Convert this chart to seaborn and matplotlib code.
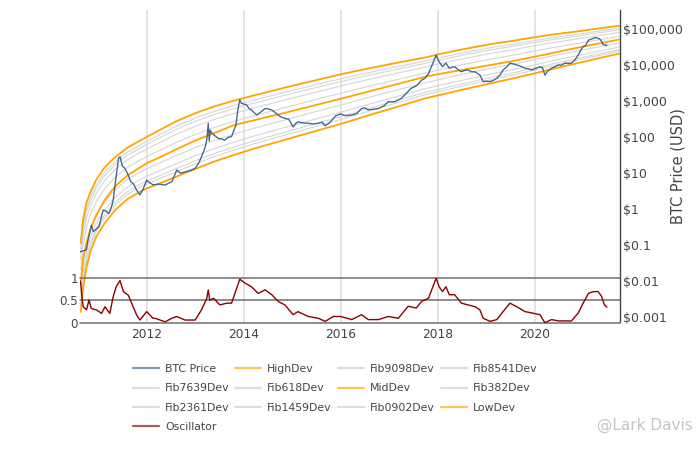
import numpy as np
import pandas as pd
import matplotlib
matplotlib.use("Agg")
import matplotlib.pyplot as plt
import seaborn as sns
from matplotlib.lines import Line2D
from matplotlib.ticker import NullLocator

# ---------------- data ----------------
# decimal years, log10(USD)
band_t = [2010.64, 2010.69, 2010.76, 2010.85, 2010.96, 2011.13, 2011.35, 2011.6, 2011.85,
          2012.0, 2012.25, 2012.6, 2013.0, 2013.4, 2013.8, 2014.2, 2014.85, 2015.5, 2016.0,
          2016.6, 2017.2, 2017.75, 2018.0, 2018.5, 2019.1, 2019.6, 2020.0, 2020.4, 2020.85,
          2021.3, 2021.76]
high_log10 = [-0.94, -0.27, 0.19, 0.51, 0.82, 1.16, 1.45, 1.71, 1.90,
              2.01, 2.19, 2.44, 2.67, 2.86, 3.02, 3.16, 3.38, 3.59, 3.75,
              3.92, 4.08, 4.22, 4.30, 4.44, 4.59, 4.69, 4.78, 4.86, 4.935,
              5.02, 5.10]
mid_log10 = [-2.05, -1.36, -0.92, -0.51, -0.17, 0.25, 0.64, 0.94, 1.15,
             1.28, 1.43, 1.66, 1.91, 2.12, 2.34, 2.47, 2.68, 2.90, 3.07,
             3.28, 3.49, 3.685, 3.75, 3.87, 4.01, 4.13, 4.24, 4.35, 4.48,
             4.60, 4.72]
low_log10 = [-2.85, -2.20, -1.60, -1.13, -0.76, -0.39, -0.02, 0.28, 0.48,
             0.58, 0.71, 0.90, 1.12, 1.33, 1.51, 1.68, 1.93, 2.18, 2.37,
             2.62, 2.86, 3.085, 3.16, 3.32, 3.50, 3.65, 3.775, 3.91, 4.05,
             4.19, 4.33]
fib_names = ["Fib9098Dev", "Fib8541Dev", "Fib7639Dev", "Fib618Dev",
             "Fib382Dev", "Fib2361Dev", "Fib1459Dev", "Fib0902Dev"]
fib_levels = [0.9098, 0.8541, 0.7639, 0.618, 0.382, 0.2361, 0.1459, 0.0902]

btc_t = [2010.62, 2010.70, 2010.755, 2010.80, 2010.86, 2010.90, 2010.96, 2011.02, 2011.10,
         2011.16, 2011.22, 2011.27, 2011.31, 2011.37, 2011.42, 2011.45, 2011.50, 2011.55,
         2011.62, 2011.67, 2011.73, 2011.79, 2011.86, 2011.92, 2012.0, 2012.06, 2012.13,
         2012.25, 2012.38, 2012.45, 2012.52, 2012.62, 2012.70, 2012.79, 2012.90, 2013.0,
         2013.08, 2013.13, 2013.2, 2013.24, 2013.27, 2013.29, 2013.31, 2013.34, 2013.40,
         2013.48, 2013.55, 2013.61, 2013.68, 2013.75, 2013.80, 2013.84, 2013.88, 2013.92,
         2013.96, 2014.01, 2014.06, 2014.11, 2014.16, 2014.22, 2014.27, 2014.35, 2014.44,
         2014.50, 2014.58, 2014.64, 2014.71, 2014.78, 2014.85, 2014.93, 2015.02, 2015.07,
         2015.12, 2015.22, 2015.33, 2015.44, 2015.54, 2015.62, 2015.68, 2015.75, 2015.82,
         2015.90, 2016.0, 2016.10, 2016.23, 2016.33, 2016.43, 2016.50, 2016.57, 2016.68,
         2016.78, 2016.90, 2016.98, 2017.05, 2017.12, 2017.25, 2017.39, 2017.45, 2017.52,
         2017.58, 2017.67, 2017.74, 2017.81, 2017.84, 2017.90, 2017.94, 2017.97, 2018.00,
         2018.03, 2018.10, 2018.17, 2018.24, 2018.30, 2018.35, 2018.42, 2018.49, 2018.56,
         2018.63, 2018.70, 2018.77, 2018.87, 2018.94, 2019.0, 2019.08, 2019.15, 2019.22,
         2019.28, 2019.35, 2019.42, 2019.49, 2019.56, 2019.63, 2019.70, 2019.80, 2019.87,
         2019.94, 2020.03, 2020.11, 2020.16, 2020.21, 2020.27, 2020.35, 2020.42, 2020.49,
         2020.55, 2020.62, 2020.70, 2020.76, 2020.83, 2020.90, 2020.95, 2021.0, 2021.05,
         2021.11, 2021.16, 2021.21, 2021.26, 2021.31, 2021.35, 2021.38, 2021.41, 2021.44,
         2021.47, 2021.49]
btc_log10 = [-1.18, -1.15, -1.13, -0.80, -0.44, -0.62, -0.55, -0.47, -0.02,
             -0.05, -0.12, 0.05, 0.26, 0.91, 1.42, 1.46, 1.20, 1.14,
             0.95, 0.77, 0.70, 0.54, 0.40, 0.54, 0.81, 0.74, 0.68,
             0.70, 0.675, 0.72, 0.77, 1.09, 1.00, 1.04, 1.08, 1.14,
             1.30, 1.46, 1.70, 1.93, 2.39, 1.90, 2.20, 2.12, 2.05,
             1.97, 1.95, 1.92, 2.00, 2.02, 2.20, 2.34, 2.76, 3.04,
             2.94, 2.92, 2.90, 2.80, 2.76, 2.68, 2.62, 2.70, 2.80,
             2.79, 2.76, 2.70, 2.62, 2.56, 2.53, 2.50, 2.29, 2.38,
             2.43, 2.40, 2.39, 2.37, 2.39, 2.42, 2.32, 2.38, 2.48,
             2.60, 2.65, 2.60, 2.62, 2.66, 2.80, 2.82, 2.76, 2.78,
             2.80, 2.88, 2.99, 2.98, 2.99, 3.08, 3.27, 3.36, 3.40,
             3.45, 3.59, 3.64, 3.76, 3.87, 4.05, 4.19, 4.29, 4.18,
             4.10, 3.96, 4.06, 3.92, 3.95, 3.96, 3.88, 3.82, 3.86,
             3.87, 3.82, 3.82, 3.73, 3.545, 3.56, 3.545, 3.58, 3.64,
             3.72, 3.87, 3.95, 4.06, 4.04, 4.01, 3.98, 3.92, 3.90,
             3.87, 3.92, 3.96, 3.94, 3.73, 3.84, 3.92, 3.96, 4.01,
             4.00, 4.06, 4.05, 4.06, 4.15, 4.29, 4.42, 4.52, 4.55,
             4.70, 4.72, 4.75, 4.77, 4.75, 4.72, 4.66, 4.58, 4.56,
             4.57, 4.54]

osc_t = [2010.62, 2010.64, 2010.665, 2010.69, 2010.76, 2010.81, 2010.86, 2010.96, 2011.07,
         2011.14, 2011.24, 2011.31, 2011.37, 2011.45, 2011.52, 2011.62, 2011.69, 2011.79,
         2011.86, 2012.0, 2012.13, 2012.17, 2012.38, 2012.52, 2012.62, 2012.79, 2013.0,
         2013.13, 2013.24, 2013.27, 2013.30, 2013.38, 2013.51, 2013.65, 2013.75, 2013.82,
         2013.92, 2014.03, 2014.16, 2014.30, 2014.44, 2014.58, 2014.71, 2014.85, 2015.02,
         2015.12, 2015.33, 2015.54, 2015.68, 2015.85, 2016.0, 2016.23, 2016.43, 2016.57,
         2016.78, 2016.98, 2017.19, 2017.39, 2017.56, 2017.67, 2017.81, 2017.94, 2017.97,
         2018.03, 2018.10, 2018.17, 2018.24, 2018.35, 2018.49, 2018.63, 2018.77, 2018.87,
         2018.94, 2019.08, 2019.22, 2019.35, 2019.49, 2019.63, 2019.80, 2019.94, 2020.11,
         2020.21, 2020.35, 2020.49, 2020.62, 2020.76, 2020.90, 2021.0, 2021.11, 2021.21,
         2021.31, 2021.38, 2021.44, 2021.49]
osc_val = [0.95, 0.89, 0.59, 0.36, 0.29, 0.51, 0.32, 0.29, 0.21,
           0.36, 0.21, 0.59, 0.81, 0.95, 0.70, 0.62, 0.44, 0.18,
           0.06, 0.25, 0.10, 0.10, 0.02, 0.10, 0.14, 0.06, 0.06,
           0.29, 0.55, 0.74, 0.51, 0.55, 0.40, 0.44, 0.44, 0.66,
           0.98, 0.89, 0.81, 0.66, 0.74, 0.63, 0.48, 0.40, 0.18,
           0.25, 0.14, 0.10, 0.03, 0.14, 0.14, 0.07, 0.18, 0.07,
           0.07, 0.14, 0.10, 0.37, 0.33, 0.48, 0.55, 0.92, 1.00,
           0.81, 0.70, 0.81, 0.63, 0.63, 0.44, 0.40, 0.36, 0.29,
           0.10, 0.03, 0.07, 0.25, 0.44, 0.36, 0.25, 0.22, 0.18,
           0.00, 0.07, 0.04, 0.04, 0.04, 0.22, 0.44, 0.66, 0.70,
           0.70, 0.59, 0.40, 0.35]

year_ticks = [2012, 2014, 2016, 2018, 2020]
price_ticks = [0.001, 0.01, 0.1, 1, 10, 100, 1000, 10000, 100000]
price_labels = ["$0.001", "$0.01", "$0.1", "$1", "$10", "$100", "$1,000", "$10,000", "$100,000"]
osc_ticks = [0, 0.5, 1]
osc_labels = ["0", "0.5", "1"]

# ---------------- style ----------------
sns.set_style("white")
plt.rcParams["font.family"] = ["DejaVu Sans"]
TXT = "#444444"
ORANGE = "#FFA500"
FIBC = "#d6d6d6"
BTCC = "#40638f"
OSCC = "#8b0000"

fig = plt.figure(figsize=(7, 4.5), dpi=100)
W, H = 700.0, 450.0
ax = fig.add_axes([80 / W, 1 - 322 / H, 540 / W, 312 / H])

bt = np.array(band_t)
hi = np.array(high_log10)
lo = np.array(low_log10)

# fib lines (between low and high in log space)
for name, f in zip(fib_names, fib_levels):
    vals = 10 ** (lo + f * (hi - lo))
    sns.lineplot(x=bt, y=vals, ax=ax, color=FIBC, linewidth=0.8, legend=False, zorder=2)

for arr in (high_log10, mid_log10, low_log10):
    sns.lineplot(x=bt, y=10 ** np.array(arr), ax=ax, color=ORANGE, linewidth=1.3,
                 legend=False, zorder=3)

btc_df = pd.DataFrame({"t": btc_t, "price": 10 ** np.array(btc_log10)})
sns.lineplot(data=btc_df, x="t", y="price", ax=ax, color=BTCC, linewidth=0.95,
             legend=False, zorder=4)

ax.set_yscale("log")
ax.set_xlim(2010.625, 2021.76)
ax.set_ylim(10 ** -3.13, 10 ** 5.536)
ax.set_xlabel("")
ax.set_ylabel("")
ax.set_xticks(year_ticks)
ax.set_xticklabels([str(y) for y in year_ticks])
ax.grid(axis="x", color="#e2e2e2", linewidth=1.3, zorder=0)
ax.grid(axis="y", visible=False)
ax.set_axisbelow(True)
ax.yaxis.tick_right()
ax.set_yticks(price_ticks)
ax.set_yticklabels(price_labels)
ax.yaxis.set_minor_locator(NullLocator())
ax.tick_params(axis="x", length=0, pad=4.5, labelsize=8.8, colors=TXT)
ax.tick_params(axis="y", length=0, pad=2.2, labelsize=9, colors=TXT)
for s in ("top", "left", "bottom"):
    ax.spines[s].set_visible(False)
ax.spines["right"].set_color(TXT)
ax.spines["right"].set_linewidth(1.0)
ax.patch.set_alpha(0)

fig.text(678 / W, 1 - 166 / H, "BTC Price (USD)", rotation=90, ha="center", va="center",
         fontsize=10.5, color=TXT)

# oscillator axes
oax = fig.add_axes([80 / W, 1 - 322.7 / H, 540 / W, 44.4 / H])
oax.patch.set_alpha(0)
osc_df = pd.DataFrame({"t": osc_t, "osc": osc_val})
sns.lineplot(data=osc_df, x="t", y="osc", ax=oax, color=OSCC, linewidth=1.0,
             legend=False, zorder=4)
for v in osc_ticks:
    oax.axhline(v, color="#6e6e6e", linewidth=1.1, zorder=3, clip_on=False)
oax.set_xlim(2010.625, 2021.76)
oax.set_ylim(0, 1)
oax.set_xticks([])
oax.set_yticks(osc_ticks)
oax.set_yticklabels(osc_labels)
oax.set_xlabel("")
oax.set_ylabel("")
oax.tick_params(axis="y", length=0, pad=1.5, labelsize=8.6, colors=TXT)
for s in oax.spines.values():
    s.set_visible(False)

# legend (proxy handles)
def h(c, a=0.65, lw=1.6):
    return Line2D([0], [0], color=c, alpha=a, linewidth=lw)

entries = {
    "BTC Price": h(BTCC), "HighDev": h(ORANGE), "MidDev": h(ORANGE), "LowDev": h(ORANGE),
    "Oscillator": h(OSCC),
}
for n in fib_names:
    entries[n] = h("#bdbdbd", 0.5)
order = ["BTC Price", "Fib7639Dev", "Fib2361Dev", "Oscillator",
         "HighDev", "Fib618Dev", "Fib1459Dev",
         "Fib9098Dev", "MidDev", "Fib0902Dev",
         "Fib8541Dev", "Fib382Dev", "LowDev"]
fig.legend([entries[k] for k in order], order, ncol=4, loc="upper left",
           bbox_to_anchor=(133 / W, 1 - 364 / H), frameon=False, fontsize=7.8,
           handlelength=2.4, handletextpad=0.55, columnspacing=0.55, labelspacing=0.86,
           borderpad=0, borderaxespad=0, labelcolor=TXT)

fig.text(645 / W, 1 - 425 / H, "@Lark Davis", ha="center", va="center", fontsize=11,
         color="#c4c4c4")

fig.savefig("out.png", dpi=100)
